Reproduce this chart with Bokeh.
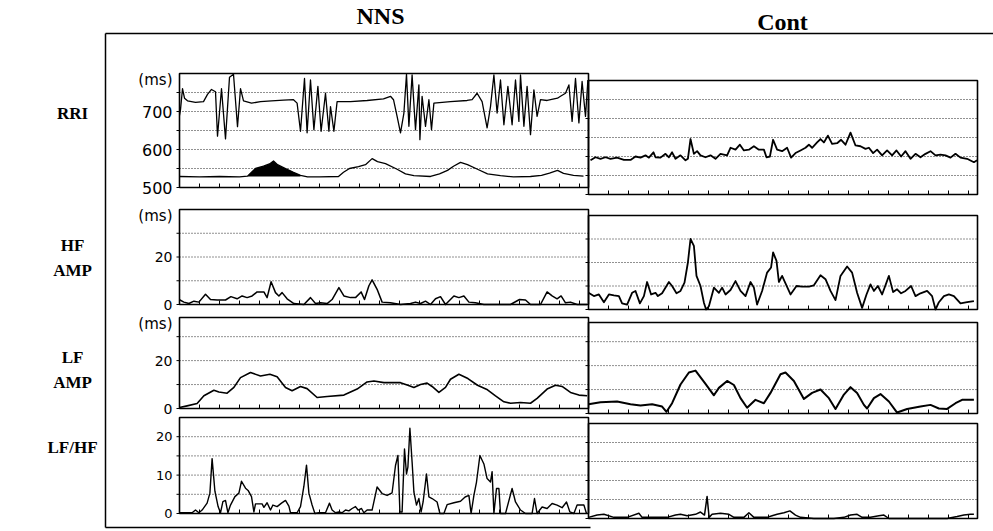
import numpy as np
from bokeh.plotting import figure
from bokeh.models import Range1d
from bokeh.core.properties import value
from bokeh.embed import file_html
from bokeh.resources import INLINE

# ---------------- data (time in s, values in ms or ratio) ----------------
COLUMNS = ["NNS", "Cont"]
ROW_LABELS = ["RRI", "HF\nAMP", "LF\nAMP", "LF/HF"]

NNS_SPAN = 204.5
CONT_SPAN = 194.5
X_TICKS_NNS = list(range(10, 205, 10))
X_TICKS_CONT = list(range(10, 195, 10))

# RRI
RRI_RANGE = (500, 800)
RRI_GRID = [550, 600, 650, 700, 750]
RRI_TICKS = [500, 600, 700]
RRI_NNS_X = [0, 0.5, 1.5, 2.5, 4, 8, 12, 14, 16, 18, 19, 21, 23, 25, 27, 29, 30.5, 32, 36, 40.5,
             46, 52, 57, 58.8, 60.5, 62.5, 63.8, 65.5, 67.2, 69.2, 70.8, 73, 74.7, 75.5, 77.2, 78.8,
             85.5, 93.8, 102, 105.5, 107, 108.8, 110.5, 112.2, 113.5, 114.7, 116.3, 118, 119.7,
             120.2, 121.3, 123, 124.7, 126, 127.2, 135.5, 143.8, 146.3, 148.8, 151.3, 153.8, 155.5,
             157.2, 158.8, 160.5, 162.2, 164.2, 166.3, 168, 169.7, 170.5, 172.2, 173.8, 175.5,
             177.2, 178.8, 180.5, 183.8, 189, 190.5, 193, 194.7, 196.3, 198, 199.7, 201.3, 203,
             204.2]
RRI_NNS_Y = [690, 705, 760, 735, 728, 724, 726, 745, 758, 752, 635, 760, 628, 790, 798, 660, 760,
             728, 722, 726, 728, 730, 731, 722, 648, 787, 644, 783, 652, 766, 648, 748, 648, 713,
             648, 726, 726, 729, 733, 740, 731, 687, 644, 696, 798, 661, 796, 652, 770, 626, 740,
             661, 731, 652, 722, 726, 729, 731, 748, 726, 657, 713, 796, 696, 783, 665, 766, 665,
             783, 674, 796, 661, 766, 639, 757, 687, 731, 729, 735, 740, 748, 770, 674, 787, 670,
             779, 687, 783]
RRI_LOW_X = [0, 10, 20, 30, 34, 36, 38, 42, 45, 47, 49, 53, 57, 60.5, 64, 70, 79.5, 82, 85, 89.5,
             93, 96.3, 99, 103, 108.8, 113, 117.2, 125.5, 130, 134, 137, 140.5, 144, 149, 154,
             160.5, 167, 175.5, 181, 185, 189, 192, 197, 202]
RRI_LOW_Y = [529, 528, 529, 528, 530, 540, 550, 556, 562, 570, 560, 550, 540, 532, 528, 528, 529,
             540, 550, 555, 560, 576, 568, 563, 548, 536, 531, 529, 536, 545, 556, 566, 560, 548,
             536, 531, 528, 529, 532, 538, 545, 537, 532, 530]
RRI_FILL_FROM, RRI_FILL_TO, RRI_FILL_BASE = 34, 60.5, 529
RRI_CONT_X = [1, 3.5, 6, 8.5, 11, 14.3, 17.7, 21, 23.5, 26, 28.5, 30.2, 32.5, 33.5, 36, 38.5, 40.2,
              41.8, 43.5, 46, 48.5, 49.7, 51, 52.7, 54.3, 56, 58.5, 61, 63.5, 66, 69.3, 71, 73.5,
              75.7, 77.7, 80.2, 82.7, 85.2, 87.7, 89, 90.7, 92.3, 94.3, 96.8, 99.3, 101.3, 103.5,
              106, 108.5, 110.2, 111.8, 114.3, 116, 117.7, 119.7, 121.8, 124.3, 126.3, 128.5, 131,
              133.5, 136, 138.5, 140.2, 142.3, 144.3, 146.8, 149.3, 151.8, 154, 156.3, 158.5, 161,
              163.5, 166, 168.5, 171, 173.5, 176, 178.5, 181, 183.5, 186, 189.3, 192.7, 194.3]
RRI_CONT_Y = [590, 598, 594, 598, 594, 597, 591, 591, 600, 597, 603, 597, 611, 598, 597, 607, 598,
              611, 594, 603, 590, 594, 646, 607, 614, 603, 598, 603, 594, 607, 603, 623, 618, 631,
              616, 618, 627, 618, 618, 598, 600, 644, 618, 614, 623, 597, 609, 616, 623, 631, 623,
              637, 646, 637, 655, 633, 635, 644, 631, 663, 629, 627, 620, 623, 609, 618, 603, 616,
              603, 616, 600, 614, 594, 607, 598, 607, 614, 603, 605, 603, 597, 607, 597, 594, 585,
              590]

# HF amplitude
HF_RANGE = (0, 40)
HF_GRID = [10, 20, 30]
HF_TICKS = [0, 20]
HF_NNS_X = [0, 2.2, 4.7, 7.2, 9.7, 13, 15.5, 18.8, 23, 25.7, 28.8, 31.3, 33.8, 36.3, 38.8, 42.2,
            43.8, 45.8, 48, 49.7, 51.3, 53.8, 57.2, 62.2, 65.5, 68, 70.5, 73.8, 76.3, 79.7, 82.2,
            85.5, 88, 90.8, 92.5, 94.7, 96.3, 98.8, 101.3, 105.5, 110.5, 115.5, 118, 120.5, 123,
            125.5, 128, 130.5, 133, 137.2, 139.7, 142.2, 144.7, 148, 152.2, 158.8, 165.5, 170,
            173, 175.5, 180.5, 183.8, 186.3, 188.8, 190.8, 193, 195.5, 198.8, 202.2, 203.8]
HF_NNS_Y = [2, 1, 0.4, 1.4, 1, 4.3, 2.1, 1.9, 1.9, 3.3, 2.4, 3.6, 2.9, 3.6, 5.3, 5.3, 2.9, 9.6, 5,
            3.6, 5, 2.4, 0.4, 0, 2.9, 0.4, 0.7, 0.4, 2.1, 7.1, 3.6, 2.9, 2.9, 5.3, 2.1, 7.9, 10.4,
            6.4, 1, 0.7, 0, 0.4, 1, 0.4, 1.4, 0, 2.4, 3.3, 0, 3.6, 2.9, 3.6, 1, 0.7, 0, 0, 0, 2.1,
            1.9, 0, 0, 5.3, 3.6, 2.4, 3.6, 0.7, 1, 0, 0, 0]
HF_CONT_X = [0, 2.7, 5.2, 7.7, 10.2, 12.7, 15.2, 16.8, 19.3, 21.8, 23.5, 25.7, 27.7, 29.3, 31.3,
             33.5, 34.7, 36.8, 40.2, 41.8, 44, 46, 48, 49.7, 51, 52.7, 54, 56, 57.7, 58.8, 60.2,
             62.7, 65.2, 66.8, 68.5, 71, 73.5, 76, 78.5, 81, 82.7, 84.3, 86.8, 89.3, 91.3, 92.3,
             94, 95.2, 96.8, 98.5, 101, 104, 106.8, 110.2, 112.7, 116, 118.5, 121, 123.5, 126,
             129.3, 131.8, 134.3, 136.8, 139, 141, 142.7, 144.7, 146.8, 150.2, 152.3, 154.3,
             156.3, 158.5, 161.3, 163.5, 166, 169.3, 171.8, 173.5, 175.2, 177.7, 180.2, 182.7,
             186, 189.3, 192.7]
HF_CONT_Y = [7.1, 5.7, 6.4, 3.1, 6.4, 6, 5.7, 2.6, 2.1, 7.1, 7.9, 2.6, 5.7, 11.7, 6.4, 7.1, 5.7,
             6.9, 11.7, 10, 6.9, 7.9, 11.4, 20, 30, 27.1, 14.3, 10, 2.9, 0, 1.4, 9.3, 7.1, 9.3,
             6.4, 8.3, 12.1, 7.9, 5.7, 11.7, 9.3, 2.1, 7.9, 15.7, 17.9, 24.3, 20.7, 11.7, 14.3,
             11.1, 6.4, 10, 9.7, 9.7, 10.3, 14.6, 12.9, 7.9, 4, 14.3, 18.3, 15.7, 7.1, 0.7, 6.4,
             10.7, 7.9, 10, 6.4, 14.3, 7.4, 8.6, 6.9, 7.9, 10, 5.7, 6.9, 7.9, 5.7, 0, 3.1, 5.7,
             6.4, 5.7, 2.6, 3.1, 3.6]

# LF amplitude
LF_RANGE = (0, 38)
LF_GRID = [10, 20, 30]
LF_TICKS = [0, 20]
LF_NNS_X = [0, 3.8, 8.8, 12.2, 17.2, 19.7, 23.8, 27.2, 30.5, 35.5, 40.5, 45.2, 48.8, 53, 56.3,
            60.5, 63.8, 68.8, 73.8, 82.2, 88.8, 93.8, 97.2, 102.2, 107.2, 110.5, 114.2, 117.2,
            120.5, 123.8, 126.3, 129.7, 133, 135.5, 139.7, 144.2, 149, 154, 158, 162.2, 165.5,
            170.5, 175.5, 178.8, 183.8, 188, 191.3, 195.5, 199.7, 203.8]
LF_NNS_Y = [0.4, 1.1, 2.1, 5.3, 7.6, 6.9, 6.4, 8.8, 12.9, 15, 13.6, 14.3, 13.3, 8.8, 7.4, 9.2,
            8.3, 4.6, 5, 5.6, 8.1, 11.1, 11.5, 10.8, 10.8, 10.8, 9.7, 8.8, 10, 10.6, 9.2, 6.7,
            8.8, 12.2, 14.3, 12.5, 9.7, 7.8, 5.3, 2.8, 2.2, 2.5, 2.2, 4.2, 8.1, 9.7, 9.2, 6.7,
            5.6, 5.3]
LF_CONT_X = [0, 6, 14.3, 21, 26, 31.8, 36.8, 39, 41.8, 46, 50.2, 53.5, 58.5, 62.7, 65.2, 69.3,
             72.7, 76, 79.3, 83.5, 87.7, 91, 96, 98.5, 102.7, 107.7, 111.8, 116, 120.2, 123.5,
             127.7, 131, 134.3, 137.7, 139.3, 142.7, 146, 150.2, 154.3, 159.3, 166, 171, 175.2,
             179.3, 183.5, 186.8, 192.7]
LF_CONT_Y = [3.9, 4.7, 5, 3.9, 3.3, 3.9, 2.9, 0.7, 4.3, 12.1, 17.1, 17.9, 12.4, 7.6, 10.7, 13.6,
             11.9, 6.4, 2.4, 5.7, 4.3, 8.6, 16.4, 17.1, 13.6, 6.1, 8.6, 10, 6.4, 1.9, 7.9, 11,
             8.6, 3.6, 2.1, 6.4, 8.1, 5, 0.4, 1.9, 2.9, 3.6, 2.1, 1.9, 4.3, 5.7, 5.7]

# LF/HF ratio
LFHF_RANGE = (0, 25)
LFHF_GRID = [5, 10, 15, 20]
LFHF_TICKS = [0, 10, 20]
LFHF_NNS_X = [0, 6.3, 8, 9.7, 11.3, 13.8, 15.2, 16.3, 17.7, 19.3, 20.5, 21.7, 23, 24.2, 25.5,
              27.7, 29.7, 31, 33, 34.3, 36, 37.2, 38, 41.3, 42.2, 43.8, 45.5, 46.7, 48.8, 51, 53,
              54.7, 55.5, 58.8, 60.5, 62.2, 63.5, 64.7, 66.3, 67.7, 69.7, 73, 75, 76.3, 78, 79.7,
              81.3, 83, 84.7, 86.3, 88, 89.3, 91, 92.2, 93.8, 96.3, 98.8, 101.3, 103.8, 106.3,
              108, 109.2, 110.2, 111.3, 112.5, 113.5, 114.2, 115.2, 116.3, 117.2, 118.5, 119.7,
              120.8, 121.8, 123.5, 124.7, 126.3, 128.8, 130.2, 132.2, 133.8, 137.2, 140.5, 142.8,
              144.7, 145.8, 147.2, 148.5, 150.2, 152.2, 153.8, 155.5, 156.3, 157.2, 158.5, 159.7,
              160.5, 163, 166.3, 168, 170.5, 173, 176.3, 177.5, 178.8, 181.3, 183.8, 186.3, 188.8,
              191.3, 193.5, 195.2, 197.2, 198.8, 202.2, 203.5]
LFHF_NNS_Y = [0.2, 0.2, 0.9, 0.2, 0.9, 2.7, 5.3, 14.3, 5.8, 1.8, 0.2, 3.1, 3.4, 0.2, 2.2, 4.4,
              5.3, 8.4, 6.6, 6, 4.4, 0.4, 2.5, 2.5, 1.6, 2.8, 0.9, 2.2, 1.8, 2.7, 3.4, 1.9, 0.2,
              0.2, 1.8, 7.1, 12.6, 5.3, 2.2, 0, 0.2, 0.2, 2.7, 0.9, 0.2, 0.4, 0.2, 0.9, 0.7, 1.3,
              1.8, 0.9, 1.3, 0.2, 0.9, 0.9, 6.9, 5.2, 4.7, 5.4, 12.5, 15.1, 0.4, 0.4, 16.8, 10.3,
              12.1, 22.2, 13.4, 5.6, 2.2, 3.9, 0.4, 3, 10.3, 4.3, 3.9, 3, 0, 0, 2.3, 2.8, 3.2, 4.3,
              4.7, 0, 4.7, 8.2, 15.1, 12.9, 9.1, 8.2, 10.9, 0, 6.5, 6.5, 0, 0, 6.5, 3, 0.9, 0, 0,
              3.9, 0, 1.7, 1.3, 2.6, 2.2, 1.5, 3, 0.4, 0, 2.2, 2.2, 0]
LFHF_CONT_X = [0, 4.3, 7.7, 12.7, 19.3, 25.2, 26.8, 39.3, 43.5, 46, 49.3, 53.5, 56, 58, 59.3,
               60.3, 61.8, 66, 70.2, 72.7, 77.7, 80.2, 82.7, 89.3, 91.8, 94.3, 97.7, 100.7,
               103.5, 106, 112.7, 122.7, 127.7, 131, 134.3, 136.8, 141, 145.2, 147.7, 150.2,
               161, 172.7, 179.3, 184.3, 187.7, 191, 192.7]
LFHF_CONT_Y = [0.3, 0.9, 1.1, 0.3, 0.3, 1.4, 0.3, 0.3, 0.9, 1.1, 0.7, 1.1, 1.7, 0.9, 5.8, 0.3,
               1.1, 1.4, 1.1, 0.3, 0.3, 1.5, 0.3, 0.3, 0.7, 1.1, 1.5, 2, 0.9, 0.3, 0, 0, 0.3,
               0.9, 1.1, 0.3, 0.3, 0.7, 0.9, 0, 0, 0, 0, 0.5, 0.9, 1.1, 1.1]

# ---------------- layout (page pixel geometry; canvas sits at page 0,0) ----------------
W, H = 993, 531
p = figure(width=W, height=H, output_backend="svg", toolbar_location=None,
           x_range=Range1d(0, W), y_range=Range1d(H, 0),
           x_axis_location=None, y_axis_location=None, min_border=0)
p.grid.visible = False
p.outline_line_color = None
p.background_fill_color = "white"
p.border_fill_color = "white"

NNS_PX = (179, 588)
CONT_PX = (588, 977)

rows = [
    dict(label=ROW_LABELS[0], yr=RRI_RANGE, grid=RRI_GRID, ticks=RRI_TICKS, ms=True,
         nns_py=(187, 73), cont_py=(194, 80), tick_fs="16px", label_y=113,
         nns=[(RRI_NNS_X, RRI_NNS_Y, 1.3), (RRI_LOW_X, RRI_LOW_Y, 1.3)],
         cont=[(RRI_CONT_X, RRI_CONT_Y, 1.8)]),
    dict(label=ROW_LABELS[1], yr=HF_RANGE, grid=HF_GRID, ticks=HF_TICKS, ms=True,
         nns_py=(304, 209), cont_py=(309, 215), tick_fs="14px", label_y=257,
         nns=[(HF_NNS_X, HF_NNS_Y, 1.5)], cont=[(HF_CONT_X, HF_CONT_Y, 1.8)]),
    dict(label=ROW_LABELS[2], yr=LF_RANGE, grid=LF_GRID, ticks=LF_TICKS, ms=True,
         nns_py=(408, 317), cont_py=(413, 322), tick_fs="14px", label_y=369,
         nns=[(LF_NNS_X, LF_NNS_Y, 1.6)], cont=[(LF_CONT_X, LF_CONT_Y, 2.0)]),
    dict(label=ROW_LABELS[3], yr=LFHF_RANGE, grid=LFHF_GRID, ticks=LFHF_TICKS, ms=False,
         nns_py=(513, 417), cont_py=(518, 423), tick_fs="13px", label_y=447,
         nns=[(LFHF_NNS_X, LFHF_NNS_Y, 1.4)], cont=[(LFHF_CONT_X, LFHF_CONT_Y, 1.5)]),
]

SANS = value("DejaVu Sans")
SERIF = value("Liberation Serif")

for ri, r in enumerate(rows):
    y0, y1 = r["yr"]
    for ci, (span, px, py, series, xticks) in enumerate([
            (NNS_SPAN, NNS_PX, r["nns_py"], r["nns"], X_TICKS_NNS),
            (CONT_SPAN, CONT_PX, r["cont_py"], r["cont"], X_TICKS_CONT)]):
        sub = p.subplot(x_source=Range1d(0, span), y_source=Range1d(y0, y1),
                        x_target=Range1d(*px), y_target=Range1d(*py))
        ppx = span / (px[1] - px[0])          # data units per pixel (x)
        ppy = (y1 - y0) / (py[0] - py[1])     # data units per pixel (y)
        g = r["grid"]
        sub.segment(x0=[0] * len(g), x1=[span] * len(g), y0=g, y1=g,
                    line_color="#222222", line_width=1, line_dash="1 2")
        lt = sorted(set(g + r["ticks"]))
        sub.segment(x0=[0] * len(lt), x1=[-3 * ppx] * len(lt), y0=lt, y1=lt,
                    line_color="black", line_width=1)
        sub.segment(x0=xticks, x1=xticks, y0=[y0] * len(xticks),
                    y1=[y0 + 4 * ppy] * len(xticks), line_color="black", line_width=1)
        if ri == 0 and ci == 0:
            fx = [x for x in RRI_LOW_X if RRI_FILL_FROM <= x <= RRI_FILL_TO]
            fy = [y for x, y in zip(RRI_LOW_X, RRI_LOW_Y) if RRI_FILL_FROM <= x <= RRI_FILL_TO]
            sub.varea(x=fx, y1=[RRI_FILL_BASE] * len(fx), y2=fy, fill_color="black")
        for xs, ys, lw in series:
            ys_c = list(np.clip(ys, y0, y1))
            sub.line(x=xs, y=ys_c, line_color="black", line_width=lw, line_join="round")
        sub.quad(left=[0], right=[span], bottom=[y0], top=[y1], fill_color=None,
                 line_color="black", line_width=1.6)
        if ci == 0:
            t = r["ticks"]
            sub.text(x=[0] * len(t), y=t, text=[str(v) for v in t], x_offset=-7,
                     text_align="right", text_baseline="middle", text_font=SANS,
                     text_font_size=r["tick_fs"], text_color="black")
            if r["ms"]:
                sub.text(x=[0], y=[y1], text=["(ms)"], x_offset=-7, y_offset=6,
                         text_align="right", text_baseline="middle", text_font=SANS,
                         text_font_size="15px", text_color="black")
    lines = r["label"].split("\n")
    n = len(lines)
    ys = [r["label_y"] + (k - (n - 1) / 2) * 25 for k in range(n)]
    p.text(x=[72] * n, y=ys, text=lines, text_align="center", text_baseline="middle",
           text_font=SERIF, text_font_style="bold", text_font_size="17px", text_color="black")

p.text(x=[380, 782], y=[15, 21], text=COLUMNS, text_align="center", text_baseline="middle",
       text_font=SERIF, text_font_style="bold", text_font_size="24px", text_color="black")

p.multi_line(xs=[[105, 105], [105, 993], [105, 590]], ys=[[33, 527], [33, 33], [527, 527]],
             line_color="black", line_width=1.5)

open("out.html", "w").write(file_html(p, INLINE))
